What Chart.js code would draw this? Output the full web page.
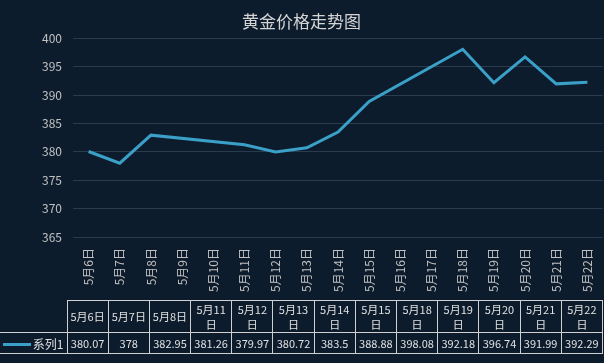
<!DOCTYPE html>
<html>
<head>
<meta charset="utf-8">
<script src="https://cdn.jsdelivr.net/npm/chart.js@4/dist/chart.umd.min.js"></script>
<style>
  html, body { margin: 0; padding: 0; background: #0d1c2d; }
  #wrap { position: relative; width: 604px; height: 363px; background: #0d1c2d; overflow: hidden; }
  canvas { position: absolute; left: 0; top: 0; }
  #tbl { position: absolute; left: 0; top: 300px; width: 603px; border-collapse: collapse; table-layout: fixed;
         font-family: "Noto Sans CJK SC", "Noto Sans", sans-serif; font-size: 11px; color: #e0e0e0; }
  #tbl td { border: 1px solid #d0d0d0; text-align: center; padding: 0; line-height: 15px; vertical-align: middle; }
  #tbl tr.h td { height: 31px; }
  #tbl tr.d td { height: 20px; }
  #tbl tr.h td.key { border-top: none; border-left: none; border-bottom: 1px solid #d0d0d0; }
  #tbl tr.d td.key { border-left: none; text-align: right; padding-right: 3px; font-size: 12px; }
  .sw { display: inline-block; width: 28px; height: 3px; background: #3aa0c8; vertical-align: middle; margin-right: 2px; position: relative; top: -1px; }
</style>
</head>
<body>
<div id="wrap">
  <canvas id="c" width="604" height="363"></canvas>
  <table id="tbl"><colgroup id="cg"></colgroup><tbody id="tb"></tbody></table>
</div>
<script>
const titleText = '黄金价格走势图';
const seriesName = '系列1';
const axisLabels = ['5月6日','5月7日','5月8日','5月9日','5月10日','5月11日','5月12日','5月13日','5月14日','5月15日','5月16日','5月17日','5月18日','5月19日','5月20日','5月21日','5月22日'];
const dates = ['5月6日','5月7日','5月8日','5月11日','5月12日','5月13日','5月14日','5月15日','5月18日','5月19日','5月20日','5月21日','5月22日'];
const values = [380.07, 378, 382.95, 381.26, 379.97, 380.72, 383.5, 388.88, 398.08, 392.18, 396.74, 391.99, 392.29];
const yMin = 365, yMax = 400, yStep = 5;

const lineColor = '#3aa0c8';
const textColor = '#c0c0c0';
const gridColor = '#2a3b4d';
const fontFam = '"Noto Sans CJK SC", "Noto Sans", sans-serif';

const bgPlugin = {
  id: 'bg',
  beforeDraw(chart) {
    const ctx = chart.ctx;
    ctx.save();
    ctx.fillStyle = '#0d1c2d';
    ctx.fillRect(0, 0, chart.width, chart.height);
    ctx.restore();
  }
};

new Chart(document.getElementById('c'), {
  type: 'line',
  data: {
    labels: axisLabels,
    datasets: [{
      label: seriesName,
      data: dates.map((d, i) => ({ x: d, y: values[i] })),
      borderColor: lineColor,
      backgroundColor: lineColor,
      borderWidth: 3,
      pointRadius: 0,
      tension: 0,
      spanGaps: true
    }]
  },
  options: {
    responsive: false,
    animation: false,
    devicePixelRatio: 1,
    layout: { padding: { left: 0, right: 1, top: 0, bottom: 63 } },
    plugins: {
      legend: { display: false },
      tooltip: { enabled: false },
      title: {
        display: true,
        text: titleText,
        color: '#d4d4d4',
        font: { family: fontFam, size: 17, weight: 'normal' },
        padding: { top: 11, bottom: 7 }
      }
    },
    scales: {
      x: {
        type: 'category',
        offset: true,
        grid: { display: false, drawTicks: false },
        border: { display: false },
        ticks: {
          color: textColor,
          font: { family: fontFam, size: 12 },
          minRotation: 90,
          maxRotation: 90,
          autoSkip: false,
          padding: 11
        },
        afterFit(scale) { scale.height = 63; scale.paddingLeft = 0; scale.paddingRight = 0; }
      },
      y: {
        min: yMin,
        max: yMax,
        grid: { color: gridColor, drawTicks: false, lineWidth: 1 },
        border: { display: false },
        ticks: {
          stepSize: yStep,
          color: textColor,
          font: { family: fontFam, size: 12 },
          padding: 11
        },
        afterFit(scale) { scale.width = 73; }
      }
    }
  },
  plugins: [bgPlugin]
});

// data table built from the arrays
const cg = document.getElementById('cg');
const c0 = document.createElement('col'); c0.style.width = '67px'; cg.appendChild(c0);
dates.forEach(() => { cg.appendChild(document.createElement('col')); });
const tb = document.getElementById('tb');
const trH = document.createElement('tr'); trH.className = 'h';
const k0 = document.createElement('td'); k0.className = 'key'; trH.appendChild(k0);
dates.forEach(d => { const td = document.createElement('td'); td.textContent = d; trH.appendChild(td); });
tb.appendChild(trH);
const trD = document.createElement('tr'); trD.className = 'd';
const k1 = document.createElement('td'); k1.className = 'key';
const sw = document.createElement('span'); sw.className = 'sw'; k1.appendChild(sw);
k1.appendChild(document.createTextNode(seriesName));
trD.appendChild(k1);
values.forEach(v => { const td = document.createElement('td'); td.textContent = String(v); trD.appendChild(td); });
tb.appendChild(trD);
</script>
</body>
</html>
